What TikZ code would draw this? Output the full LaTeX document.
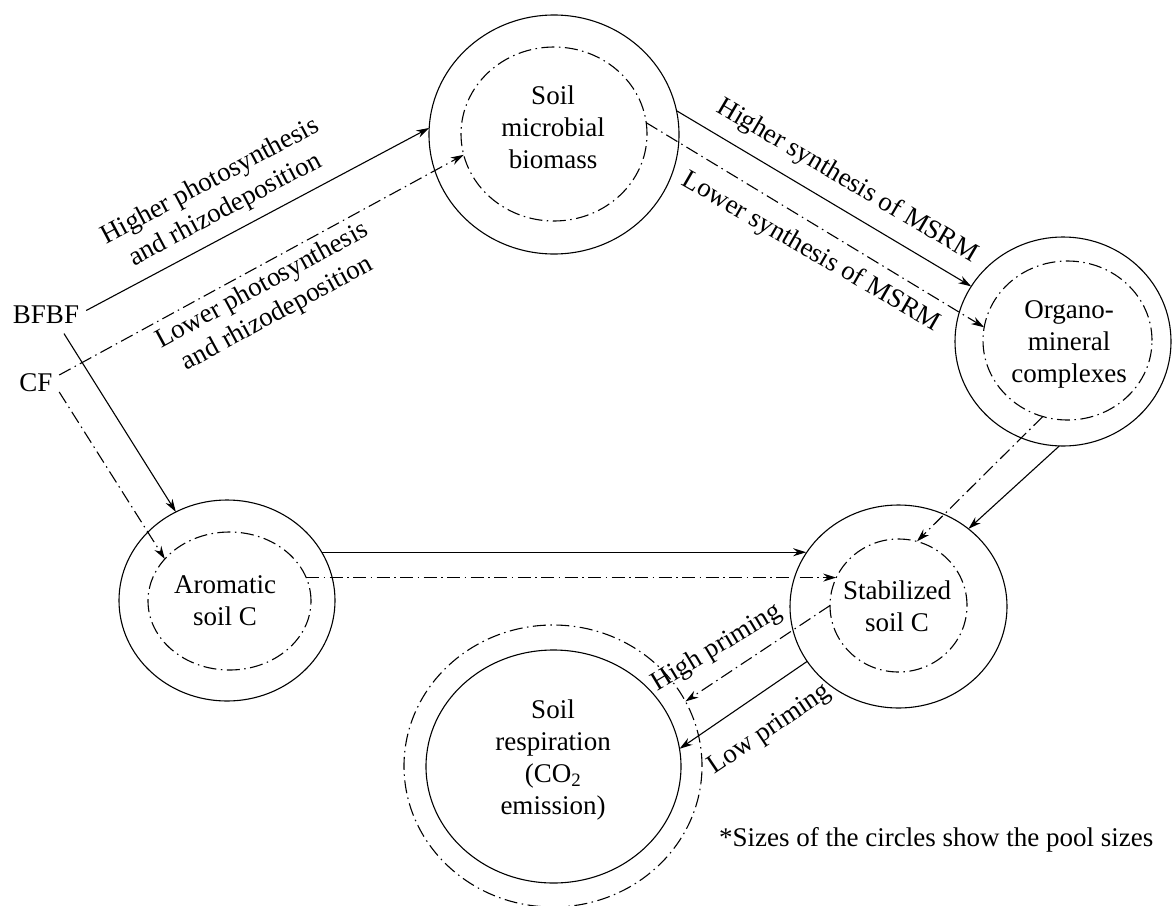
\documentclass[tikz,border=0pt]{standalone}
\usepackage{fontspec}
\setmainfont{Liberation Serif}
\usetikzlibrary{shapes.geometric,arrows.meta,calc}
\begin{document}
\begin{tikzpicture}[x=1pt,y=-1pt,
  lw/.style={line width=1.1pt},
  dashdot/.style={dash pattern=on 13pt off 4.5pt on 1.5pt off 4.5pt},
  solidpool/.style={ellipse, draw, lw, inner sep=0pt, outer sep=0pt},
  dashpool/.style={ellipse, draw, lw, dashdot, inner sep=0pt, outer sep=0pt},
  txt/.style={align=center, font=\fontsize{27}{32}\selectfont, inner sep=0pt},
  lbl/.style={align=center, font=\fontsize{27}{32}\selectfont, inner sep=2pt},
  flow/.style={lw, -{Stealth[length=13pt,width=8pt]}},
  dflow/.style={flow, dashdot}]
\useasboundingbox (0,0) rectangle (1175,905);

% sources
\node[lbl] (BFBF) at (46,314.5) {BFBF};
\node[lbl] (CF) at (36,383) {CF};

% pools
\node[solidpool, minimum width=250pt, minimum height=239pt] (M) at (554,134.5) {};
\node[dashpool, minimum width=186pt, minimum height=174pt] (Mi) at (554,134) {};
\node[txt] (Mt) at (553,127) {Soil\\microbial\\biomass};

\node[solidpool, minimum width=216pt, minimum height=209pt] (O) at (1063,341.5) {};
\node[dashpool, minimum width=169pt, minimum height=159pt] (Oi) at (1067.5,340.5) {};
\node[txt] (Ot) at (1069,344.5) {Organo-\\mineral\\complexes};

\node[solidpool, minimum width=216pt, minimum height=201pt] (A) at (227,600.5) {};
\node[dashpool, minimum width=163pt, minimum height=138pt] (Ai) at (229.5,601) {};
\node[txt] (At) at (225,601) {Aromatic\\soil C};

\node[solidpool, minimum width=217pt, minimum height=203pt] (S) at (898.5,606.5) {};
\node[dashpool, minimum width=137pt, minimum height=133pt] (Si) at (898.5,605.5) {};
\node[txt] (St) at (897,606) {Stabilized\\soil C};

\node[dashpool, minimum width=298pt, minimum height=282pt] (Ro) at (553,766) {};
\node[solidpool, minimum width=255pt, minimum height=233pt] (R) at (553.5,766.5) {};
\node[txt] (Rt) at (553,760) {Soil\\respiration\\(CO\textsubscript{2}\\emission)};

% connectors
\draw[flow] ([shift={(5,-4)}]BFBF.east) -- (M.177);
\draw[dflow] ([shift={(4.5,-8)}]CF.east) -- (Mi.193);
\draw[flow] ([shift={(18,8)}]BFBF.south) -- (A.120);
\draw[dflow] ([shift={(4.5,9)}]CF.east) -- (Ai.147);

\draw[flow] (M.11) -- (O.149);
\draw[dflow] (Mi.7) -- (Oi.171);

\draw[flow] (A.27) -- (A.27 -| S.150);
\draw[dflow] (Ai.17) -- (Ai.17 -| Si.156);

\draw[flow] (O.268) -- (S.48);
\draw[dflow] (Oi.252) -- (Si.74);

\draw[flow] (S.211) -- (R.8);
\draw[dflow] (Si.180) -- (Ro.26);

% labels
\node[txt, rotate=28] (L1) at (218,196) {Higher photosynthesis\\and rhizodeposition};
\node[txt, rotate=28.5] (L2) at (270,300) {Lower photosynthesis\\and rhizodeposition};
\node[txt, rotate=-30.5] (L3) at (847,181) {Higher synthesis of MSRM};
\node[txt, rotate=-30] (L4) at (811,252) {Lower synthesis of MSRM};
\node[txt, rotate=31] (L5) at (717,648) {High priming};
\node[txt, rotate=34] (L6) at (770,730) {Low priming};

\node[txt, anchor=west] (note) at (719,840) {*Sizes of the circles show the pool sizes};
\end{tikzpicture}
\end{document}
